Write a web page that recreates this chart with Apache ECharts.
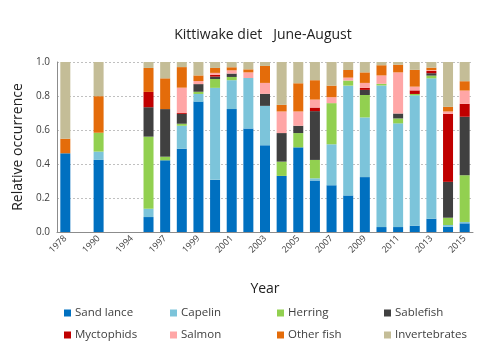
<!DOCTYPE html>
<html>
<head>
<meta charset="utf-8">
<script src="https://cdn.jsdelivr.net/npm/echarts@6/dist/echarts.min.js"></script>
<style>html,body{margin:0;padding:0;background:#fff}#c{width:485px;height:355px}</style>
</head>
<body>
<div id="c"></div>
<script>
const years = ['1978','','1990',' ','1994','1996','1997','1998','1999','2000','2001','2002','2003','2004','2005','2006','2007','2008','2009','2010','2011','2012','2013','2014','2015'];
const yTicks = [0, 0.2, 0.4, 0.6, 0.8, 1.0];
const sandLance = [0.463,null,0.424,null,null,0.088,0.422,0.490,0.767,0.307,0.723,0.609,0.510,0.330,0.498,0.303,0.275,0.215,0.323,0.029,0.029,0.037,0.078,0.031,0.051];
const capelin = [0,null,0.049,null,null,0.049,0,0.135,0.045,0.541,0.170,0.297,0.232,0,0,0.013,0.241,0.646,0.351,0.833,0.610,0.767,0.826,0.010,0.008];
const herring = [0,null,0.111,null,null,0.424,0.021,0.012,0.013,0.052,0.019,0,0,0.084,0.084,0.108,0.242,0.030,0.132,0.010,0.029,0.008,0.016,0.043,0.275];
const sablefish = [0,null,0,null,null,0.173,0.280,0.058,0.045,0.014,0.020,0,0.071,0.168,0.043,0.287,0,0,0.030,0,0.029,0,0.014,0.211,0.344];
const myctophids = [0,null,0,null,null,0.090,0,0.005,0,0.010,0,0,0,0,0,0.021,0,0,0.012,0,0,0.021,0.013,0.400,0.076];
const salmon = [0,null,0,null,null,0,0,0.149,0.018,0.012,0.019,0.033,0.064,0.127,0.084,0.047,0.035,0.017,0.029,0.049,0.242,0.022,0.005,0.014,0.078];
const otherFish = [0.086,null,0.215,null,null,0.141,0.181,0.121,0.033,0.029,0.018,0.018,0.100,0.039,0.166,0.114,0.068,0.045,0.062,0.060,0.045,0.099,0.015,0.027,0.055];
const invertebrates = [0.451,null,0.201,null,null,0.035,0.096,0.030,0.079,0.035,0.031,0.043,0.023,0.252,0.125,0.107,0.139,0.047,0.061,0.019,0.016,0.046,0.033,0.264,0.113];

const seriesDefs = [
  ['Sand lance', sandLance, '#0070C0'],
  ['Capelin', capelin, '#7CC4DA'],
  ['Herring', herring, '#92D050'],
  ['Sablefish', sablefish, '#404040'],
  ['Myctophids', myctophids, '#C00000'],
  ['Salmon', salmon, '#FFA6A6'],
  ['Other fish', otherFish, '#E46C0A'],
  ['Invertebrates', invertebrates, '#C4BD97']
];
const FONT = "'Open Sans', 'Noto Sans', sans-serif";
const chart = echarts.init(document.getElementById('c'), null, {renderer: 'canvas'});
const legendCols = [64, 170, 277, 384];
const legendRows = [307, 329];
const legends = seriesDefs.map((d, i) => ({
  data: [d[0]], left: legendCols[i % 4], top: legendRows[Math.floor(i / 4)],
  itemWidth: 7, itemHeight: 7, itemGap: 0, padding: 0, icon: 'rect',
  textStyle: {fontSize: 11.5, color: '#404040', fontFamily: FONT, padding: [0, 0, 0, -1]}
}));
chart.setOption({
  animation: false,
  textStyle: {fontFamily: FONT},
  title: {
    text: 'Kittiwake diet   June-August', left: 258, top: 23, textAlign: 'center',
    textStyle: {fontSize: 14, fontWeight: 'normal', color: '#222', fontFamily: FONT}
  },
  legend: legends,
  grid: {left: 57, right: 12, top: 62, bottom: 123},
  xAxis: {
    type: 'category', data: years,
    name: 'Year', nameLocation: 'middle', nameGap: 50,
    nameTextStyle: {fontSize: 14, color: '#222', fontFamily: FONT},
    axisTick: {show: false},
    axisLine: {lineStyle: {color: '#8c8c8c', width: 1}},
    axisLabel: {interval: 1, rotate: 45, fontSize: 9, color: '#404040', margin: 5}
  },
  yAxis: {
    type: 'value', min: 0, max: 1, interval: 0.2,
    name: 'Relative occurrence', nameLocation: 'middle', nameGap: 32, nameRotate: 90,
    nameTextStyle: {fontSize: 14, color: '#222', fontFamily: FONT},
    axisLine: {show: true, lineStyle: {color: '#8c8c8c'}},
    axisTick: {show: false},
    splitLine: {lineStyle: {color: '#c0c0c0', type: [2, 2]}},
    axisLabel: {fontSize: 10, color: '#404040', formatter: v => v.toFixed(1), margin: 7}
  },
  series: seriesDefs.map(d => ({
    name: d[0], type: 'bar', stack: 'all', data: d[1], barWidth: 10,
    itemStyle: {color: d[2]}
  }))
});
</script>
</body>
</html>
